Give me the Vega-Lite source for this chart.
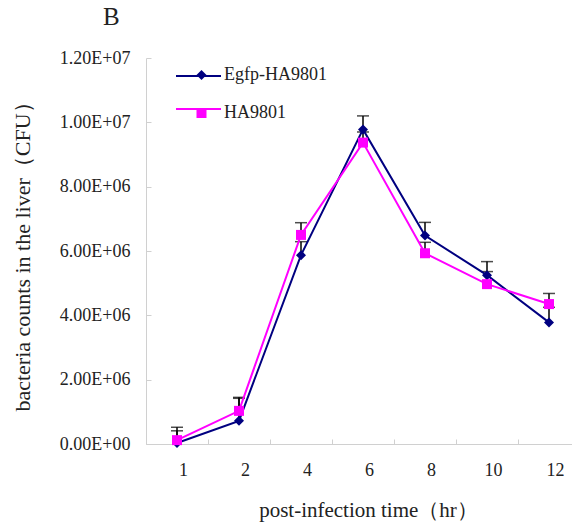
{
  "$schema": "https://vega.github.io/schema/vega-lite/v6.json",
  "width": 426,
  "height": 386,
  "autosize": {"type": "none"},
  "padding": {"left": 146, "top": 58, "right": 0, "bottom": 82},
  "background": "white",
  "title": {
    "text": "B",
    "anchor": "start",
    "frame": "group",
    "dx": -43,
    "offset": 19,
    "fontSize": 25,
    "font": "Liberation Serif",
    "fontWeight": "normal",
    "color": "#222222"
  },
  "config": {
    "view": {"stroke": null},
    "font": "Liberation Serif"
  },
  "data": {
    "values": [
      {"series": "Egfp-HA9801", "time": 1, "mean": 30000, "upper": 520000},
      {"series": "Egfp-HA9801", "time": 2, "mean": 720000, "upper": 1420000},
      {"series": "Egfp-HA9801", "time": 4, "mean": 5870000, "upper": 6290000},
      {"series": "Egfp-HA9801", "time": 6, "mean": 9780000, "upper": 10200000},
      {"series": "Egfp-HA9801", "time": 8, "mean": 6480000, "upper": 6890000},
      {"series": "Egfp-HA9801", "time": 10, "mean": 5250000, "upper": 5670000},
      {"series": "Egfp-HA9801", "time": 12, "mean": 3780000, "upper": 4250000},
      {"series": "HA9801", "time": 1, "mean": 120000, "upper": 410000},
      {"series": "HA9801", "time": 2, "mean": 1030000, "upper": 1450000},
      {"series": "HA9801", "time": 4, "mean": 6500000, "upper": 6880000},
      {"series": "HA9801", "time": 6, "mean": 9370000, "upper": 9700000},
      {"series": "HA9801", "time": 8, "mean": 5930000, "upper": 6270000},
      {"series": "HA9801", "time": 10, "mean": 4970000, "upper": 5360000},
      {"series": "HA9801", "time": 12, "mean": 4350000, "upper": 4680000}
    ]
  },
  "encoding": {
    "x": {
      "field": "time",
      "type": "ordinal",
      "scale": {"type": "band", "range": [0, 434], "paddingInner": 0, "paddingOuter": 0},
      "axis": {
        "title": "post-infection time（hr）",
        "labelAngle": 0,
        "tickBand": "extent",
        "tickSize": -5,
        "tickColor": "#d0d0d0",
        "domainColor": "#d0d0d0",
        "labelFontSize": 18,
        "labelColor": "#222222",
        "labelPadding": 22,
        "labelOffset": 6,
        "titleFontSize": 21,
        "titleFontWeight": "normal",
        "titleColor": "#222222",
        "titleX": 222,
        "titleY": 66,
        "titleBaseline": "middle"
      }
    },
    "y": {
      "field": "mean",
      "type": "quantitative",
      "scale": {"domain": [0, 12000000], "nice": false},
      "axis": {
        "title": "bacteria counts in the liver（CFU）",
        "values": [0, 2000000, 4000000, 6000000, 8000000, 10000000, 12000000],
        "labelExpr": "replace(upper(format(datum.value, '.2e')), 'E+', 'E+0')",
        "grid": false,
        "tickSize": -5,
        "tickColor": "#d0d0d0",
        "domainColor": "#d0d0d0",
        "labelFontSize": 18,
        "labelColor": "#222222",
        "labelPadding": 21,
        "titleFontSize": 22,
        "titleFontWeight": "normal",
        "titleColor": "#222222",
        "titleX": -124,
        "titleY": 193,
        "titleBaseline": "middle"
      }
    }
  },
  "layer": [
    {
      "mark": {"type": "rule", "color": "black", "strokeWidth": 1.5},
      "encoding": {"y2": {"field": "upper"}}
    },
    {
      "mark": {"type": "tick", "color": "black", "size": 12, "thickness": 1.5},
      "encoding": {
        "y": {"field": "upper", "type": "quantitative", "title": "bacteria counts in the liver（CFU）"}
      }
    },
    {
      "mark": {"type": "line", "strokeWidth": 2},
      "encoding": {
        "stroke": {
          "field": "series",
          "type": "nominal",
          "scale": {"range": ["#000080", "#ff00ff"]},
          "legend": {
            "orient": "none",
            "legendX": 29,
            "legendY": -5.5,
            "title": null,
            "padding": 0,
            "symbolType": "stroke",
            "symbolSize": 2025,
            "symbolStrokeWidth": 2,
            "rowPadding": -3,
            "labelExpr": "''",
            "labelFontSize": 18
          }
        }
      }
    },
    {
      "mark": {"type": "point", "filled": true, "size": 100, "opacity": 1},
      "encoding": {
        "color": {
          "field": "series",
          "type": "nominal",
          "scale": {"domain": ["Egfp-HA9801", "HA9801"], "range": ["#000080", "#ff00ff"]},
          "legend": {
            "orient": "none",
            "legendX": 46.5,
            "legendY": 8,
            "title": null,
            "padding": 0,
            "symbolSize": 100,
            "labelOffset": 13.5,
            "rowPadding": 20,
            "labelFontSize": 18,
            "labelColor": "#222222",
            "labelFont": "Liberation Serif"
          }
        },
        "shape": {
          "field": "series",
          "type": "nominal",
          "scale": {"domain": ["Egfp-HA9801", "HA9801"], "range": ["diamond", "square"]},
          "legend": {
            "orient": "none",
            "legendX": 46.5,
            "legendY": 8,
            "title": null,
            "padding": 0,
            "symbolSize": 100,
            "labelOffset": 13.5,
            "rowPadding": 20,
            "labelFontSize": 18,
            "labelColor": "#222222",
            "labelFont": "Liberation Serif"
          }
        }
      }
    }
  ]
}
